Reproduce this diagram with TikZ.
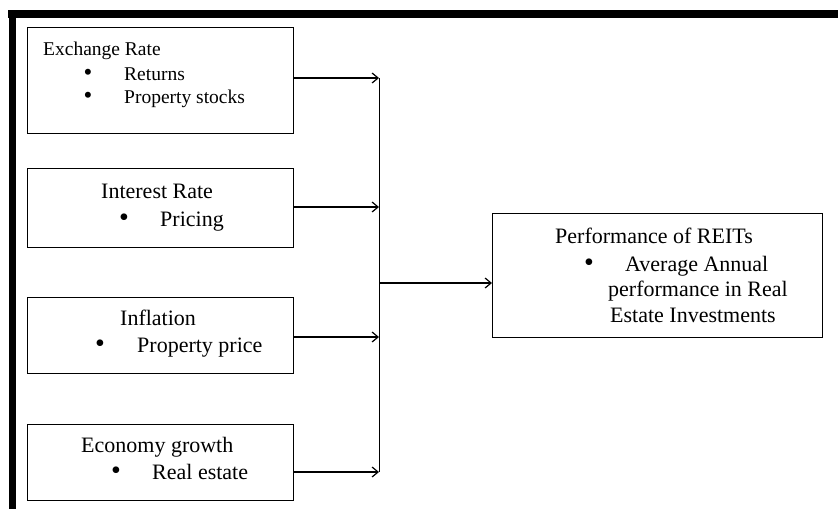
\documentclass[tikz,border=0pt]{standalone}
\usepackage{fontspec}
\setmainfont{Liberation Serif}
\usetikzlibrary{arrows.meta}
\begin{document}
\begin{tikzpicture}[x=1pt,y=-1pt,
  box/.style={draw,line width=1.4pt,inner sep=0pt,anchor=north west},
  lbl/.style={anchor=base west,inner sep=0pt,font=\fontsize{22}{25}\selectfont},
  lbls/.style={anchor=base west,inner sep=0pt,font=\fontsize{19.5}{23}\selectfont},
  bul/.style={anchor=center,inner sep=0pt,font=\fontsize{28}{28}\selectfont},
  buls/.style={anchor=center,inner sep=0pt,font=\fontsize{25}{25}\selectfont},
  conn/.style={line width=1.6pt,-{Straight Barb[length=6pt,width=10pt,line width=1.2pt]}}]
\useasboundingbox (0,0) rectangle (838,509);
% frame bars
\fill[black] (8,10) rectangle (838,18);
\fill[black] (9,10) rectangle (16,509);
% boxes
\node[box,minimum width=266pt,minimum height=106pt] (b1) at (27,27) {};
\node[box,minimum width=266pt,minimum height=79pt] (b2) at (27,168) {};
\node[box,minimum width=266pt,minimum height=76pt] (b3) at (27,297) {};
\node[box,minimum width=266pt,minimum height=76pt] (b4) at (27,424) {};
\node[box,minimum width=330pt,minimum height=124pt] (b5) at (492,213) {};
% texts box 1
\node[lbls] (t1) at (43,55) {Exchange Rate};
\node[buls] (u1a) at (88,75) {•};
\node[lbls] (t1a) at (124,80) {Returns};
\node[buls] (u1b) at (88,98) {•};
\node[lbls] (t1b) at (124,103) {Property stocks};
% box 2
\node[lbl] (t2) at (101,198) {Interest Rate};
\node[bul] (u2) at (124,220) {•};
\node[lbl] (t2a) at (160,226) {Pricing};
% box 3
\node[lbl] (t3) at (120,325) {Inflation};
\node[bul] (u3) at (100,346) {•};
\node[lbl] (t3a) at (137,352) {Property price};
% box 4
\node[lbl] (t4) at (81,452) {Economy growth};
\node[bul] (u4) at (116,473) {•};
\node[lbl] (t4a) at (152,479) {Real estate};
% box 5
\node[lbl] (t5) at (555,243) {Performance of REITs};
\node[bul] (u5) at (589,265) {•};
\node[lbl] (t5a) at (625,271) {Average Annual};
\node[lbl] (t5b) at (608,296) {performance in Real};
\node[lbl] (t5c) at (610,322) {Estate Investments};
% connectors
\coordinate (j1) at (379,78);
\coordinate (j2) at (379,207);
\coordinate (j3) at (379,337);
\coordinate (j4) at (379,472);
\coordinate (jm) at (379,283);
\draw[line width=1pt] (j1) -- (j4);
\draw[conn] (b1.east |- j1) -- (j1);
\draw[conn] (b2.east |- j2) -- (j2);
\draw[conn] (b3.east |- j3) -- (j3);
\draw[conn] (b4.east |- j4) -- (j4);
\draw[conn] (jm) -- (b5.west |- jm);
\end{tikzpicture}
\end{document}
